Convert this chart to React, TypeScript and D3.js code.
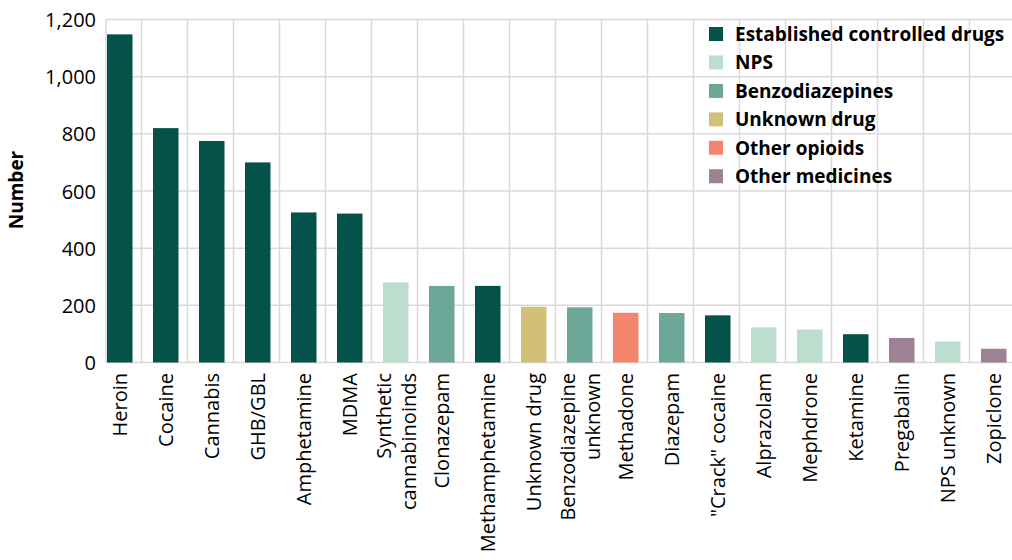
import React from "react";
import * as d3 from "d3";

const categories = [
  "Heroin", "Cocaine", "Cannabis", "GHB/GBL", "Amphetamine", "MDMA",
  "Synthetic\ncannabinoinds", "Clonazepam", "Methamphetamine", "Unknown drug",
  "Benzodiazepine\nunknown", "Methadone", "Diazepam", "\"Crack\" cocaine",
  "Alprazolam", "Mephdrone", "Ketamine", "Pregabalin", "NPS unknown", "Zopiclone",
];
const values = [1148, 820, 775, 700, 525, 521, 280, 268, 268, 195, 193, 174, 173, 165, 123, 115, 99, 86, 73, 48];
const groupOf = [
  "Established controlled drugs", "Established controlled drugs", "Established controlled drugs",
  "Established controlled drugs", "Established controlled drugs", "Established controlled drugs",
  "NPS", "Benzodiazepines", "Established controlled drugs", "Unknown drug",
  "Benzodiazepines", "Other opioids", "Benzodiazepines", "Established controlled drugs",
  "NPS", "NPS", "Established controlled drugs", "Other medicines", "NPS", "Other medicines",
];
const groups = ["Established controlled drugs", "NPS", "Benzodiazepines", "Unknown drug", "Other opioids", "Other medicines"];
const groupColors = ["#05524b", "#bcdece", "#6ca797", "#d2c078", "#f5866e", "#9c8294"];
const yTicks = [0, 200, 400, 600, 800, 1000, 1200];

const W = 1012, H = 560;
const left = 106, top = 19.5, bottom = 362.5, step = 46;
const barW = 25.5;
const FONT = "'Open Sans', 'Liberation Sans', sans-serif";

export default function App() {
  const x = d3.scaleBand<string>().domain(categories).range([left, left + step * categories.length]).paddingInner(0).paddingOuter(0);
  const y = d3.scaleLinear().domain([0, 1200]).range([bottom, top]);
  const color = d3.scaleOrdinal<string, string>().domain(groups).range(groupColors);
  const grid = "#d9d9d9";

  return (
    <svg width={W} height={H} style={{ position: "absolute", left: 0, top: 0, background: "#fff" }} fontFamily={FONT}>
      {/* horizontal gridlines */}
      {yTicks.map((t) => (
        <line key={"h" + t} x1={left} x2={W} y1={y(t)} y2={y(t)} stroke={grid} strokeWidth={1.5} />
      ))}
      {/* vertical gridlines */}
      <line x1={left} x2={left} y1={top} y2={bottom} stroke={grid} strokeWidth={1.5} />
      {categories.slice(1).map((c) => (
        <line key={"v" + c} x1={(x(c) as number) - 10.5} x2={(x(c) as number) - 10.5} y1={top} y2={bottom} stroke={grid} strokeWidth={1.5} />
      ))}
      {/* bars */}
      {categories.map((c, i) => (
        <rect key={"b" + c} x={(x(c) as number) + 1} y={y(values[i])} width={barW} height={bottom - y(values[i])}
          fill={color(groupOf[i])} />
      ))}
      {/* y tick labels */}
      {yTicks.map((t) => (
        <text key={"yt" + t} x={96} y={y(t)} textAnchor="end" dominantBaseline="central" fontSize={20} fill="#000">
          {d3.format(",")(t)}
        </text>
      ))}
      {/* y title */}
      <text transform="translate(16,190) rotate(-90)" textAnchor="middle" dominantBaseline="central" fontSize={19} fontWeight="bold" fill="#000">
        Number
      </text>
      {/* x labels */}
      {categories.map((c) => {
        const lines = c.split("\n");
        const cx = (x(c) as number) + 1 + barW / 2;
        const lh = 25;
        return (
          <text key={"xl" + c} transform={`translate(${cx},373) rotate(-90)`} textAnchor="end" fontSize={20} fill="#000">
            {lines.map((l, j) => (
              <tspan key={j} x={0} y={(j - (lines.length - 1) / 2) * lh} dominantBaseline="central">{l}</tspan>
            ))}
          </text>
        );
      })}
      {/* legend */}
      {groups.map((g, i) => (
        <g key={"lg" + g} transform={`translate(709,${34 + i * 28.45})`}>
          <rect x={0} y={-7} width={14} height={14} fill={color(g)} />
          <text x={26} y={0} dominantBaseline="central" fontSize={19} fontWeight="bold" fill="#000">{g}</text>
        </g>
      ))}
    </svg>
  );
}
